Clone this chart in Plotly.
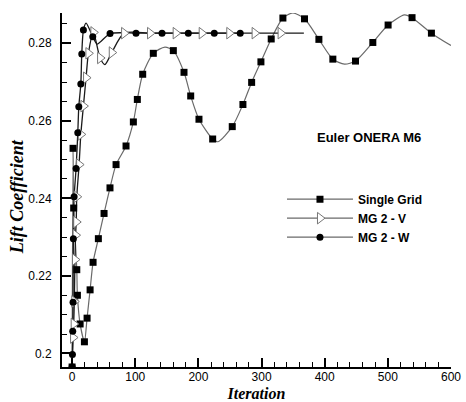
import plotly.graph_objects as go

# ---- data ----
# Single Grid: smooth curve points (iteration, lift coefficient)
sg_iter = [0, 1.5, 2.5, 7.4, 8.4, 12.7, 19.5, 23.7, 28.5, 33.2, 41.6, 50.6, 60, 69.6, 85.4,
           97, 103.3, 111.8, 128.6, 147, 160.3, 177.2, 187.8, 200.9, 222.6, 231, 253.6,
           270.5, 284.3, 299, 315.3, 333.8, 349.6, 368, 390.8, 412.9, 431.4, 448.8, 476.2,
           500.4, 526.3, 538.3, 569, 600]
sg_cl = [0.1965, 0.2529, 0.2375, 0.2216, 0.2150, 0.2076, 0.2030, 0.2091, 0.2164, 0.2235,
         0.2296, 0.2361, 0.2427, 0.2487, 0.2535, 0.2597, 0.2655, 0.2720, 0.2774, 0.2790,
         0.2781, 0.2725, 0.2664, 0.2604, 0.2553, 0.2546, 0.2585, 0.2642, 0.2699, 0.2752,
         0.2811, 0.2865, 0.2878, 0.2863, 0.2810, 0.2759, 0.2746, 0.2754, 0.2802, 0.2847,
         0.2873, 0.2866, 0.2826, 0.2794]
# Single Grid marker positions
sg_mark_iter = [0, 1.5, 2.5, 7.4, 8.4, 12.7, 19.5, 23.7, 28.5, 33.2, 41.6, 50.6, 60, 69.6,
                85.4, 97, 103.3, 111.8, 128.6, 160.3, 177.2, 187.8, 200.9, 222.6, 253.6,
                270.5, 284.3, 299, 315.3, 333.8, 368, 390.8, 412.9, 448.8, 476.2, 500.4,
                538.3, 569]
sg_mark_cl = [0.1965, 0.2529, 0.2375, 0.2216, 0.2150, 0.2076, 0.2030, 0.2091, 0.2164, 0.2235,
              0.2296, 0.2361, 0.2427, 0.2487, 0.2535, 0.2597, 0.2655, 0.2720, 0.2774, 0.2781,
              0.2725, 0.2664, 0.2604, 0.2553, 0.2585, 0.2642, 0.2699, 0.2752, 0.2811, 0.2865,
              0.2863, 0.2810, 0.2759, 0.2754, 0.2802, 0.2847, 0.2866, 0.2826]

# MG 2 - V
v_iter = [0, 1.5, 2.5, 3.5, 4.5, 5.5, 6.5, 7.4, 11.1, 13.8, 17.9, 22.1, 25.8, 33.7, 44.3,
          52, 62.8, 82.3, 123.4, 164, 205.2, 248.9, 289, 330.2, 367]
v_cl = [0.1965, 0.2041, 0.2076, 0.2134, 0.2242, 0.2305, 0.2339, 0.2404, 0.2487, 0.2565,
        0.2638, 0.2711, 0.2774, 0.2828, 0.2762, 0.2745, 0.2776, 0.2826, 0.2826, 0.2826,
        0.2826, 0.2826, 0.2826, 0.2826, 0.2826]
v_mark_iter = [1.5, 2.5, 3.5, 4.5, 5.5, 6.5, 7.4, 11.1, 13.8, 17.9, 22.1, 25.8, 33.7, 44.3,
               62.8, 82.3, 123.4, 164, 205.2, 248.9, 289, 330.2]
v_mark_cl = [0.2041, 0.2076, 0.2134, 0.2242, 0.2305, 0.2339, 0.2404, 0.2487, 0.2565, 0.2638,
             0.2711, 0.2774, 0.2828, 0.2762, 0.2776, 0.2826, 0.2826, 0.2826, 0.2826, 0.2826,
             0.2826, 0.2826]

# MG 2 - W
w_iter = [0, 0.5, 1, 1.5, 2, 3.2, 6.3, 9, 10.6, 13.8, 15.3, 17.9, 22.1, 32.7, 39.5, 60.1,
          101.2, 142.4, 184, 225.1, 266.2]
w_cl = [0.1965, 0.1997, 0.2057, 0.2132, 0.2296, 0.2404, 0.2477, 0.2569, 0.2636, 0.2695,
        0.2772, 0.2834, 0.2852, 0.2817, 0.2798, 0.2825, 0.2826, 0.2826, 0.2826, 0.2826, 0.2826]
w_mark_iter = [0, 0.5, 1, 1.5, 2, 3.2, 6.3, 9, 10.6, 13.8, 15.3, 17.9, 32.7, 60.1, 101.2,
               142.4, 184, 225.1, 266.2]
w_mark_cl = [0.1965, 0.1997, 0.2057, 0.2132, 0.2296, 0.2404, 0.2477, 0.2569, 0.2636, 0.2695,
             0.2772, 0.2834, 0.2817, 0.2825, 0.2826, 0.2826, 0.2826, 0.2826, 0.2826]

x_ticks = [0, 100, 200, 300, 400, 500, 600]
x_labels = ["0", "100", "200", "300", "400", "500", "600"]
y_ticks = [0.20, 0.22, 0.24, 0.26, 0.28]
y_labels = ["0.2", "0.22", "0.24", "0.26", "0.28"]

series_names = ["Single Grid", "MG 2 - V", "MG 2 - W"]
annotation_text = "Euler ONERA M6"

# ---- styles ----
SG_LINE = "#6a6a6a"
MG_LINE = "#1a1a1a"
sg_marker = dict(symbol="square", size=7, color="black", line=dict(width=0))
v_marker = dict(symbol="triangle-right", size=10, color="white", line=dict(width=1, color="#777777"))
w_marker = dict(symbol="circle", size=7, color="black", line=dict(width=0))

fig = go.Figure()
LS = dict(shape="spline", smoothing=0.7)

fig.add_trace(go.Scatter(x=sg_iter, y=sg_cl, mode="lines", line=dict(color=SG_LINE, width=1.2, **LS),
                         showlegend=False, hoverinfo="skip"))
fig.add_trace(go.Scatter(x=v_iter, y=v_cl, mode="lines", line=dict(color=MG_LINE, width=1.3, **LS),
                         showlegend=False, hoverinfo="skip"))
fig.add_trace(go.Scatter(x=w_iter, y=w_cl, mode="lines", line=dict(color=MG_LINE, width=1.3, **LS),
                         showlegend=False, hoverinfo="skip"))
fig.add_trace(go.Scatter(x=sg_mark_iter, y=sg_mark_cl, mode="markers", marker=sg_marker, showlegend=False))
fig.add_trace(go.Scatter(x=v_mark_iter, y=v_mark_cl, mode="markers", marker=v_marker, showlegend=False))
fig.add_trace(go.Scatter(x=w_mark_iter, y=w_mark_cl, mode="markers", marker=w_marker, showlegend=False))

# legend entries
fig.add_trace(go.Scatter(x=[None], y=[None], mode="lines+markers", name=series_names[0],
                         line=dict(color=SG_LINE, width=1.2), marker=sg_marker))
fig.add_trace(go.Scatter(x=[None], y=[None], mode="lines+markers", name=series_names[1],
                         line=dict(color=SG_LINE, width=1.2), marker=v_marker))
fig.add_trace(go.Scatter(x=[None], y=[None], mode="lines+markers", name=series_names[2],
                         line=dict(color=SG_LINE, width=1.2), marker=w_marker))

tick_font = dict(family="Liberation Sans, Arial", size=12, color="black")
title_font = dict(family="Liberation Serif, Times New Roman", size=16, color="black",
                  weight="bold", style="italic")
y_title_font = dict(family="Liberation Serif, Times New Roman", size=18, color="black",
                    weight="bold", style="italic")

fig.update_xaxes(range=[-16, 600], tickmode="array", tickvals=x_ticks, ticktext=x_labels,
                 ticks="inside", ticklen=9, tickwidth=1.5, tickcolor="black",
                 minor=dict(ticks="inside", dtick=20, tick0=0, ticklen=5, tickwidth=1, tickcolor="black"),
                 showline=True, linewidth=2, linecolor="black", showgrid=False, zeroline=False,
                 automargin=False, tickfont=tick_font, ticklabelstandoff=-2,
                 title=dict(text="Iteration", font=title_font, standoff=6))
fig.update_yaxes(range=[0.1965, 0.2878], tickmode="array", tickvals=y_ticks, ticktext=y_labels,
                 ticks="inside", ticklen=9, tickwidth=1.5, tickcolor="black",
                 minor=dict(ticks="inside", dtick=0.005, tick0=0.2, ticklen=5, tickwidth=1, tickcolor="black"),
                 showline=True, linewidth=2, linecolor="black", showgrid=False, zeroline=False,
                 automargin=False, tickfont=tick_font, ticklabelstandoff=6,
                 title=dict(text="Lift Coefficient&nbsp;&nbsp;&nbsp;", font=y_title_font, standoff=0))

fig.add_annotation(x=470, y=0.2556, xref="x", yref="y", text=annotation_text, showarrow=False,
                   font=dict(family="Liberation Sans, Arial", size=13, color="black", weight="bold"))

fig.update_layout(width=466, height=402, margin=dict(l=62, r=15, t=13, b=35),
                  plot_bgcolor="white", paper_bgcolor="white",
                  legend=dict(x=0.5655, y=0.515, xanchor="left", yanchor="top",
                              bgcolor="rgba(0,0,0,0)", itemwidth=66, tracegroupgap=0,
                              font=dict(family="Liberation Sans, Arial", size=12, color="black",
                                        weight="bold")))

fig.write_html("out.html")
